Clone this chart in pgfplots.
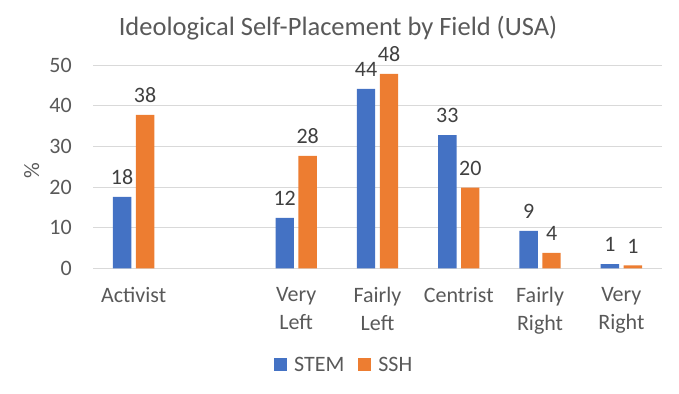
\documentclass[border=0pt]{standalone}
\usepackage{pgfplots}
\pgfplotsset{compat=1.18}
\usepackage{fontspec}
\setmainfont{Carlito}
\definecolor{cblue}{HTML}{4472C4}
\definecolor{corange}{HTML}{ED7D31}
\definecolor{ctext}{HTML}{595959}
\definecolor{cdark}{HTML}{404040}
\definecolor{cgrid}{HTML}{D9D9D9}
\begin{document}
\begin{tikzpicture}[x=1bp,y=1bp]
\path[use as bounding box] (0,0) rectangle (679,393);
\begin{axis}[
  at={(93bp,124.7bp)}, anchor=south west,
  scale only axis, width=569bp, height=203bp,
  xmin=-0.5, xmax=6.5, ymin=0, ymax=50,
  ytick={0,10,20,30,40,50},
  xtick={0,2,3,4,5,6},
  xticklabels={Activist,{Very\\Left},{Fairly\\Left},Centrist,{Fairly\\Right},{Very\\Right}},
  major tick length=0pt,
  axis line style={draw=none},
  ymajorgrids, grid style={cgrid, line width=0.9bp},
  tick label style={font=\fontsize{22bp}{28bp}\selectfont, text=ctext},
  /pgf/number format/assume math mode=true,
  yticklabel style={anchor=east, inner sep=0pt, xshift=-21bp},
  xticklabel style={anchor=north, align=center, inner sep=0pt, yshift=-19bp},
  ylabel={\%},
  ylabel style={font=\fontsize{22bp}{26bp}\selectfont, text=ctext, at={(-61.3bp,97.5bp)}, anchor=center, rotate=0},
  clip=false,
  nodes near coords={\pgfmathprintnumber[fixed,precision=0]{\pgfplotspointmeta}},
  every node near coord/.append style={font=\fontsize{22bp}{26bp}\selectfont, text=cdark, anchor=south, inner sep=0pt, yshift=12bp},
  legend columns=2,
  legend style={at={(0.4415,-0.476)}, anchor=center, draw=none, fill=none, font=\fontsize{22bp}{26bp}\selectfont, text=ctext, inner sep=0pt,
    /tikz/every odd column/.append style={column sep=5bp},
    /tikz/every even column/.append style={column sep=12bp}},
  legend image code/.code={\fill[#1] (0bp,-6.5bp) rectangle (13bp,6.5bp);},
]
\addplot[ybar, bar width=0.226, bar shift=-0.141, fill=cblue, draw=none,
  every node near coord/.append style={xshift=-11.5bp}] coordinates {(0,17.6) (2,12.4) (3,44.2) (4,32.8) (5,9.2) (6,1.06)};
\addlegendentry{STEM}
\addplot[ybar, bar width=0.226, bar shift=0.141, fill=corange, draw=none,
  every node near coord/.append style={xshift=11.5bp}] coordinates {(0,37.8) (2,27.7) (3,47.9) (4,19.9) (5,3.8) (6,0.74)};
\addlegendentry{SSH}
\node[font=\fontsize{26.5bp}{32bp}\selectfont, text=ctext, anchor=center] at (rel axis cs:0.4306,1.185) {Ideological Self-Placement by Field (USA)};
\end{axis}
\end{tikzpicture}
\end{document}
